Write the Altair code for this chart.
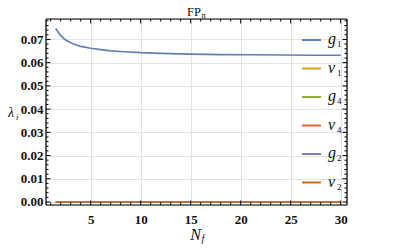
import altair as alt
import pandas as pd

# ---- data ----
series = ["g1", "v1", "g4", "v4", "g2", "v2"]
legend_letters = ["g", "v", "g", "v", "g", "v"]
legend_subs = ["1", "1", "4", "4", "2", "2"]
colors = ["#5E81B5", "#E19C24", "#8FB032", "#EB6235", "#8778B3", "#C56E1A"]

nf_g1 = [1.5, 2, 2.5, 3, 3.5, 4, 5, 6, 7, 8, 10, 12, 15, 18, 21, 24, 27, 30]
g1 = [0.0747, 0.0716, 0.0697, 0.0686, 0.0677, 0.0670, 0.0662, 0.0656, 0.0651,
      0.0648, 0.0643, 0.0640, 0.0637, 0.0635, 0.0634, 0.0633, 0.0632, 0.0632]
nf_zero = [1.5, 30]
zero = [0.0, 0.0]

x_major = [5, 10, 15, 20, 25, 30]
x_minor = [i for i in range(1, 31) if i % 5 != 0]
y_major = [0.0, 0.01, 0.02, 0.03, 0.04, 0.05, 0.06, 0.07]
y_minor = [round(0.002 * i, 4) for i in range(1, 40) if i % 5 != 0]

x_domain = [0.53, 30.63]
y_domain = [-0.0013, 0.0788]

W, H = 301, 186

rows = []
for nf, v in zip(nf_g1, g1):
    rows.append({"Nf": nf, "val": v, "s": series[0], "k": 0})
for k, s in enumerate(series[1:], start=1):
    for nf, v in zip(nf_zero, zero):
        rows.append({"Nf": nf, "val": v, "s": s, "k": k})
df = pd.DataFrame(rows)

xs = alt.Scale(domain=x_domain, nice=False, zero=False)
ys = alt.Scale(domain=y_domain, nice=False, zero=False)

serif = "Liberation Serif"

x_axis = alt.Axis(values=x_major, title=None, ticks=False, domain=False,
                  labelFont=serif, labelFontWeight="bold", labelFontSize=13,
                  labelColor="#111", labelPadding=8, labelOverlap=False,
                  gridColor="#e3e3e3", gridWidth=1)
y_axis = alt.Axis(values=y_major, format=".2f", title=None, ticks=False, domain=False,
                  labelFont=serif, labelFontWeight="bold", labelFontSize=13,
                  labelColor="#111", labelPadding=3, labelOverlap=False,
                  gridColor="#e3e3e3", gridWidth=1)

lines = alt.Chart(df).mark_line(strokeWidth=1.7, clip=True).encode(
    x=alt.X("Nf:Q", scale=xs, axis=x_axis),
    y=alt.Y("val:Q", scale=ys, axis=y_axis),
    color=alt.Color("s:N", scale=alt.Scale(domain=series, range=colors), legend=None),
    order=alt.Order("k:Q"),
    detail="s:N",
)

def ticks(vals, axis, length, side):
    d = pd.DataFrame({"v": vals})
    c = alt.Chart(d).mark_rule(color="black", strokeWidth=1)
    if axis == "x":
        xe = alt.X("v:Q", scale=xs, axis=x_axis)
        if side == "bottom":
            return c.encode(x=xe, y=alt.value(H), y2=alt.value(H - length))
        return c.encode(x=xe, y=alt.value(0), y2=alt.value(length))
    else:
        ye = alt.Y("v:Q", scale=ys, axis=y_axis)
        if side == "left":
            return c.encode(y=ye, x=alt.value(0), x2=alt.value(length))
        return c.encode(y=ye, x=alt.value(W), x2=alt.value(W - length))

tick_layers = []
for side in ["bottom", "top"]:
    tick_layers.append(ticks(x_major, "x", 4.5, side))
    tick_layers.append(ticks(x_minor, "x", 2.5, side))
for side in ["left", "right"]:
    tick_layers.append(ticks(y_major, "y", 4.5, side))
    tick_layers.append(ticks(y_minor, "y", 2.5, side))

one = pd.DataFrame({"a": [0]})
frame = [
    alt.Chart(one).mark_rule(color="black", strokeWidth=1.2).encode(
        x=alt.value(0), x2=alt.value(W), y=alt.value(0)),
    alt.Chart(one).mark_rule(color="black", strokeWidth=1.2).encode(
        x=alt.value(0), x2=alt.value(W), y=alt.value(H)),
    alt.Chart(one).mark_rule(color="black", strokeWidth=1.2).encode(
        x=alt.value(0), y=alt.value(0), y2=alt.value(H)),
    alt.Chart(one).mark_rule(color="black", strokeWidth=1.2).encode(
        x=alt.value(W), y=alt.value(0), y2=alt.value(H)),
]

def txt(t, x, y, size, style="normal", align="left"):
    return alt.Chart(pd.DataFrame({"t": [t]})).mark_text(
        font=serif, fontSize=size, fontStyle=style, align=align,
        baseline="alphabetic", color="#111"
    ).encode(text="t:N", x=alt.value(x), y=alt.value(y))

labels = [
    txt("FP", 155, -3, 12.5, align="right"),
    txt("n", 155.5, -1, 8.5),
    txt("N", 155, 221, 16, style="italic", align="right"),
    txt("f", 155.5, 223, 10.5, style="italic"),
    txt("λ", -38, 98, 14, style="italic"),
    txt("i", -30, 101, 9, style="italic"),
]

legend_layers = []
for k in range(len(series)):
    yc = 21 + 28.5 * k
    legend_layers.append(
        alt.Chart(pd.DataFrame({"s": [series[k]]})).mark_rule(strokeWidth=2).encode(
            x=alt.value(256), x2=alt.value(275), y=alt.value(yc),
            color=alt.Color("s:N", scale=alt.Scale(domain=series, range=colors), legend=None))
    )
    legend_layers.append(txt(legend_letters[k], 282, yc + 4, 16, style="italic"))
    legend_layers.append(txt(legend_subs[k], 291, yc + 7, 9))

chart = alt.layer(lines, *tick_layers, *frame, *labels, *legend_layers).properties(
    width=W, height=H,
    padding={"left": 38, "top": 11, "right": 52, "bottom": 39},
    autosize=alt.AutoSizeParams(type="none"),
).configure_view(stroke="black", strokeWidth=1.2).configure(background="white")

chart.save("out.html", embed_options={"renderer": "svg", "actions": False})
